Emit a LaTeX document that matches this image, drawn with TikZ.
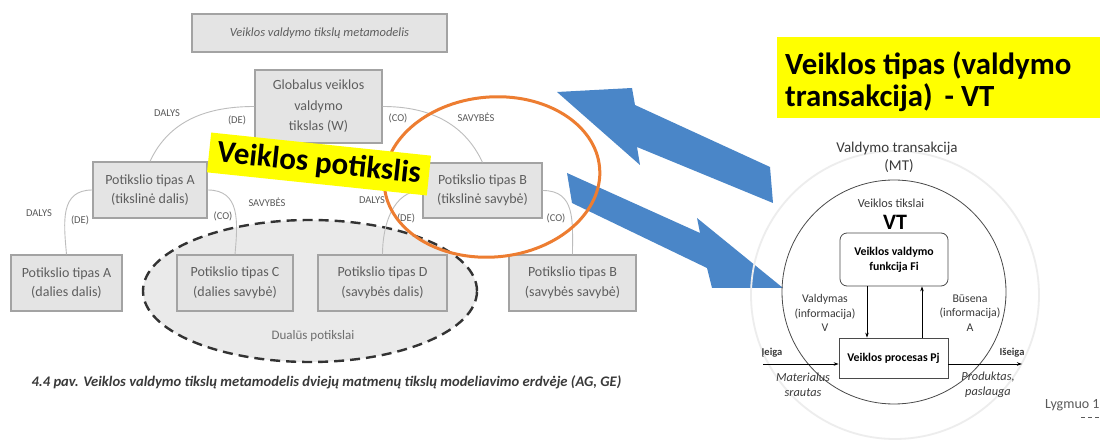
\documentclass[tikz,border=0pt]{standalone}
\usepackage{fontspec}
\setmainfont{Carlito}
\usetikzlibrary{arrows.meta,shapes.geometric}

\definecolor{boxfill}{HTML}{E4E4E4}
\definecolor{boxline}{HTML}{A3A3A3}
\definecolor{boxtext}{HTML}{5E5E5E}
\definecolor{arcgray}{HTML}{BDBDBD}
\definecolor{lbl}{HTML}{5A5A5A}
\definecolor{dualfill}{HTML}{EAEAEA}
\definecolor{captext}{HTML}{3A3A3A}
\definecolor{hiorange}{HTML}{ED7D31}
\definecolor{arrowblue}{HTML}{4A86C8}
\definecolor{hiyellow}{HTML}{FFFF00}
\definecolor{faint}{HTML}{EDEDED}
\definecolor{darkline}{HTML}{4A4A4A}
\definecolor{mttext}{HTML}{3A3A3A}

\newcommand{\myfs}[2]{\fontsize{#1}{#2}\selectfont}

\tikzset{
  gbox/.style={draw=boxline, fill=boxfill, line width=1.3pt, text=boxtext,
    align=center, inner sep=0pt, font=\myfs{14}{19.5}},
  arcline/.style={draw=arcgray, line width=0.9pt},
  arclbl/.style={text=lbl, font=\myfs{10.5}{12}, inner sep=0pt},
  hilabel/.style={fill=hiyellow, inner sep=0pt, text=black},
  blockarrow/.style={fill=arrowblue, draw=none},
  mtline/.style={draw=darkline, line width=0.8pt},
  flow/.style={draw=black, line width=0.7pt, -{Stealth[length=5pt,width=3.5pt]}},
  mtsmall/.style={text=mttext, font=\myfs{11.8}{14.5}, align=center, inner sep=0pt},
}

\begin{document}
\begin{tikzpicture}[x=1pt, y=1pt]
\useasboundingbox[fill=white] (0,0) rectangle (1100,-443);

% ---------- goal metamodel ----------
\node[fill=dualfill, draw=black!80, line width=2.4pt, dash pattern=on 10pt off 6pt,
      ellipse, minimum width=334pt, minimum height=142pt, inner sep=0pt] (dual) at (310,-291) {};
\node[text=boxtext!90, font=\myfs{13}{15}] (dualtxt) at (313,-336) {Dualūs potikslai};

\node[gbox, minimum width=255pt, minimum height=38pt, font=\itshape\myfs{12.5}{15}] (meta) at (319.5,-33)
  {Veiklos valdymo tikslų metamodelis};
\node[gbox, minimum width=127pt, minimum height=73pt, font=\myfs{14}{20.5}] (glob) at (318.5,-106.5)
  {Globalus veiklos\\valdymo\\tikslas (W)};
\node[gbox, minimum width=114pt, minimum height=56pt] (ta) at (150,-190)
  {Potikslio tipas A\\(tikslinė dalis)};
\node[gbox, minimum width=119pt, minimum height=55pt] (tb) at (482.5,-190.5)
  {Potikslio tipas B\\(tikslinė savybė)};
\node[gbox, minimum width=111pt, minimum height=56pt] (aa) at (66.5,-283)
  {Potikslio tipas A\\(dalies dalis)};
\node[gbox, minimum width=116pt, minimum height=56pt] (cc) at (235,-283)
  {Potikslio tipas C\\(dalies savybė)};
\node[gbox, minimum width=129pt, minimum height=56pt] (dd) at (382.5,-283)
  {Potikslio tipas D\\(savybės dalis)};
\node[gbox, minimum width=127pt, minimum height=56pt] (bb) at (572.5,-283)
  {Potikslio tipas B\\(savybės savybė)};

% part / property arcs
\draw[arcline] (glob.west) to[out=180, in=65] (ta.north);
\draw[arcline] (glob.east) to[out=0, in=115] (tb.north);
\draw[arcline] (ta.west) to[out=180, in=95, looseness=1.2] (aa.north);
\draw[arcline] (ta.east) to[out=0, in=85, looseness=1.2] (cc.north);
\draw[arcline] (tb.west) to[out=180, in=90] (dd.north);
\draw[arcline] (tb.east) to[out=0, in=90, looseness=1.2] (bb.north);

\node[arclbl] (l1) at (167,-113) {DALYS};
\node[arclbl] (l2) at (237,-120) {(DE)};
\node[arclbl] (l3) at (398,-118) {(CO)};
\node[arclbl] (l4) at (476,-117) {SAVYBĖS};
\node[arclbl] (l5) at (39,-213) {DALYS};
\node[arclbl] (l6) at (80,-220) {(DE)};
\node[arclbl] (l7) at (223,-216) {(CO)};
\node[arclbl] (l8) at (267,-202) {SAVYBĖS};
\node[arclbl] (l9) at (372,-200) {DALYS};
\node[arclbl] (l10) at (406,-218) {(DE)};
\node[arclbl] (l11) at (556,-218) {(CO)};

\node[anchor=west, text=captext, font=\bfseries\itshape\myfs{14.6}{16}] (cap) at (28,-382)
  {4.4 pav. Veiklos valdymo tikslų metamodelis dviejų matmenų tikslų modeliavimo erdvėje (AG, GE)};

% ---------- block arrows ----------
\fill[blockarrow] (557,-92) -- (632,-88) -- (635,-105) -- (770,-167) -- (773,-203)
  -- (637,-147) -- (640,-165) -- cycle;
\fill[blockarrow] (567,-173) -- (700,-233) -- (697,-218) -- (783,-288) -- (712,-288)
  -- (707,-268) -- (572,-203) -- cycle;

% highlighted sub-goal
\node[draw=hiorange, line width=3pt, ellipse, rotate=5, minimum width=216pt,
      minimum height=160pt, inner sep=0pt] (subgoal) at (492,-177) {};
\node[hilabel, rotate=-6, minimum width=221pt, minimum height=40pt,
      font=\bfseries\myfs{31}{31}] (potik) at (319,-164) {Veiklos potikslis};

% ---------- management transaction ----------
\node[hilabel, anchor=north west, minimum width=323pt, minimum height=81pt] (vtbox) at (777,-37) {};
\node[anchor=base west, inner sep=0pt, font=\bfseries\myfs{30.8}{32}] (vt1) at (785,-75)
  {Veiklos tipas (valdymo};
\node[anchor=base west, inner sep=0pt, font=\bfseries\myfs{30.8}{32}] (vt2) at (785,-107)
  {transakcija)\hspace{12pt}- VT};

\node[draw=faint, line width=1.8pt, circle, minimum size=288pt, inner sep=0pt] (outer) at (895,-295) {};
\node[mtline, circle, minimum size=224pt, inner sep=0pt] (inner) at (894,-292) {};

\node[mtsmall, font=\myfs{15}{17}] (mt1) at (897,-149) {Valdymo transakcija};
\node[mtsmall, font=\myfs{15}{17}] (mt2) at (899,-166) {(MT)};
\node[mtsmall, font=\myfs{12.3}{14}] (goals) at (891,-203) {Veiklos tikslai};
\node[inner sep=0pt, font=\bfseries\myfs{22}{22}] (vtmark) at (895,-222) {VT};

\node[mtline, rounded corners=7pt, fill=white, minimum width=108pt, minimum height=53pt,
      align=center, inner sep=0pt, font=\bfseries\myfs{11.8}{15}] (fi) at (894,-259.5)
  {Veiklos valdymo\\funkcija Fi};
\node[mtline, fill=white, minimum width=109pt, minimum height=40pt, inner sep=0pt,
      font=\bfseries\myfs{11.8}{13}] (pj) at (893.5,-358) {Veiklos procesas Pj};

\path (fi.south) ++(-27,0) coordinate (vtop);
\path (fi.south) ++(28,0) coordinate (btop);
\draw[flow] (vtop) -- (vtop |- pj.north);
\draw[flow] (btop |- pj.north) -- (btop);

\coordinate (inflow) at (763,-364);
\coordinate (outflow) at (1022,-364);
\draw[flow] (inflow) -- (inflow -| pj.west);
\draw[flow] (outflow -| pj.east) -- (outflow);

\node[mtsmall] (ctrl) at (825,-313) {Valdymas\\(informacija)\\V};
\node[mtsmall] (state) at (970,-313) {Būsena\\(informacija)\\A};
\node[mtsmall, font=\bfseries\myfs{10.5}{12}] (inlbl) at (772,-353) {Įeiga};
\node[mtsmall, font=\bfseries\myfs{10.5}{12}] (outlbl) at (1012,-353) {Išeiga};
\node[mtsmall, font=\itshape\myfs{12.3}{15}] (mat) at (803,-385) {Materialus\\srautas};
\node[mtsmall, font=\itshape\myfs{12.3}{15}] (prod) at (988,-385) {Produktas,\\paslauga};

\node[text=lbl, anchor=west, font=\myfs{14}{16}, inner sep=0pt] (level) at (1045,-405) {Lygmuo 1};
\coordinate (lvdash) at (1081,-417);
\draw[lbl, line width=0.6pt, dash pattern=on 4pt off 3pt] (lvdash) -- ++(19,0);
\end{tikzpicture}
\end{document}
